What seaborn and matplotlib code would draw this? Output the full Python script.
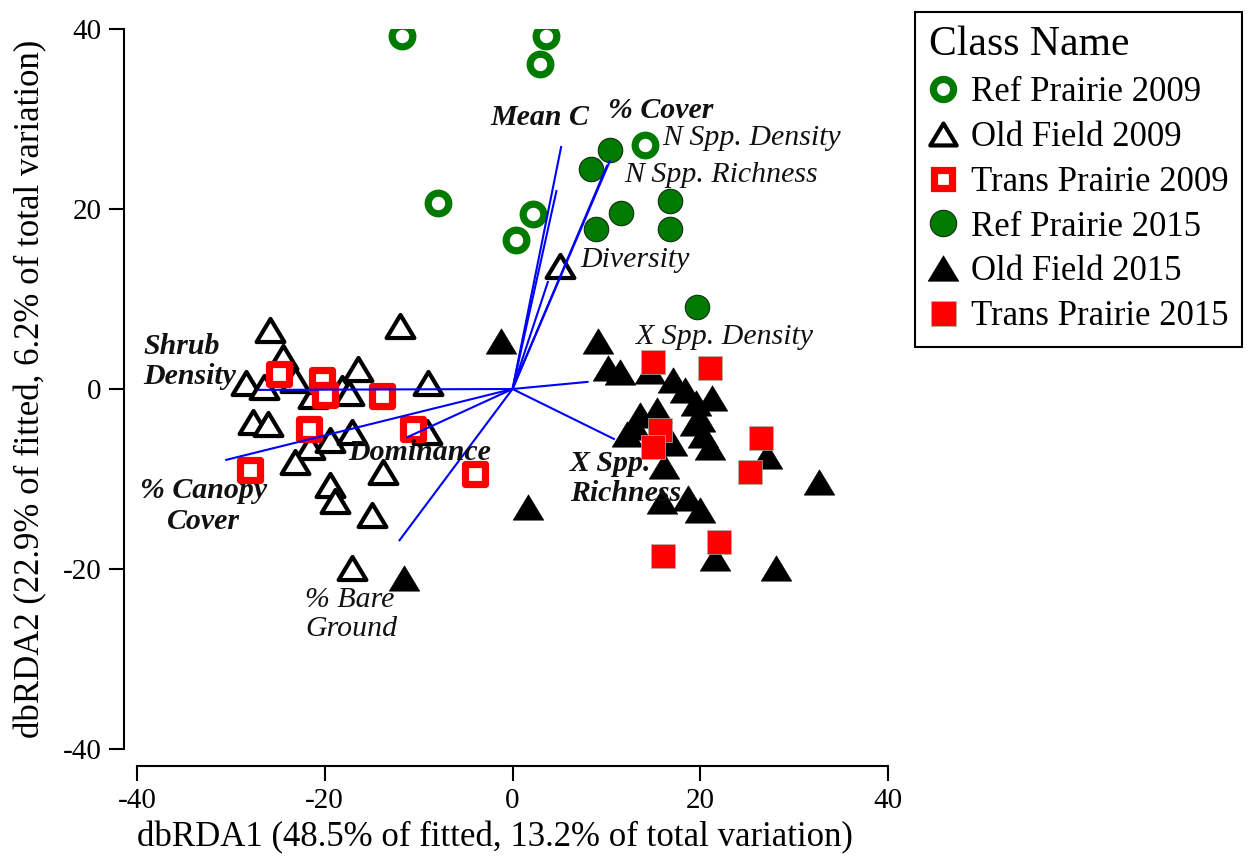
import numpy as np
import pandas as pd
import matplotlib
matplotlib.use("Agg")
import matplotlib.pyplot as plt
from matplotlib.lines import Line2D
from matplotlib.path import Path
import seaborn as sns

# ---- site scores on dbRDA1 / dbRDA2 -------------------------------------
ref_2009_x = [-11.8, 3.6, 2.9, -7.9, 2.2, 0.4, 14.1]
ref_2009_y = [39.2, 39.2, 36.1, 20.7, 19.4, 16.6, 27.1]

old_2009_x = [-25.8, -12.0, -24.5, -28.4, -26.5, -23.2, -21.2, -20.2, -18.2,
              -16.5, -17.4, -9.0, -27.6, -26.0, -21.6, -23.2, -19.4, -17.1,
              -9.1, -13.8, -19.4, -18.9, -15.0, -17.1, 5.1]
old_2009_y = [6.6, 7.0, 3.6, 0.7, 0.2, 1.0, -0.8, 0.9, 0.1,
              2.2, -0.4, 0.7, -3.7, -3.9, -6.4, -8.1, -5.7, -4.8,
              -4.8, -9.2, -10.7, -12.4, -14.0, -19.9, 13.7]

trans_2009_x = [-24.9, -20.3, -20.0, -13.9, -21.7, -28.0, -10.6, -4.0]
trans_2009_y = [1.7, 1.0, -0.7, -0.8, -4.4, -9.0, -4.4, -9.4]

ref_2015_x = [10.4, 8.4, 16.8, 11.6, 8.9, 16.8, 19.7]
ref_2015_y = [26.5, 24.4, 20.9, 19.6, 17.8, 17.8, 9.1]

old_2015_x = [-1.2, 9.1, 10.2, 11.4, 1.7, -11.6, 17.1, 18.4, 21.2, 19.6,
              13.6, 15.4, 13.0, 20.0, 20.3, 21.0, 17.0, 16.1, 32.6, 27.1,
              15.9, 18.7, 20.0, 21.6, 28.1, 19.4, 14.6, 12.2]
old_2015_y = [5.3, 5.3, 2.3, 1.9, -13.1, -21.0, 1.0, -0.1, -1.0, -1.6,
              -2.9, -2.3, -4.2, -3.3, -5.1, -6.4, -6.0, -8.6, -10.3, -7.5,
              -12.5, -12.1, -13.4, -18.8, -19.9, -3.8, 2.0, -5.0]

trans_2015_x = [15.0, 21.0, 15.7, 15.0, 26.5, 25.3, 16.0, 22.0]
trans_2015_y = [3.0, 2.3, -4.6, -6.4, -5.5, -9.2, -18.6, -17.0]

class_names = ["Ref Prairie 2009", "Old Field 2009", "Trans Prairie 2009",
               "Ref Prairie 2015", "Old Field 2015", "Trans Prairie 2015"]

# ---- environmental vectors ---------------------------------------------
vector_names = ["Mean C", "% Cover", "N Spp. Density", "N Spp. Richness",
                "Diversity", "X Spp. Density", "X Spp. Richness", "Dominance",
                "Shrub Density", "% Canopy Cover", "% Bare Ground"]
vector_x = [5.2, 4.7, 10.4, 10.1, 3.8, 8.1, 10.9, -11.3, -27.1, -30.6, -12.1]
vector_y = [27.0, 22.1, 25.4, 24.9, 12.0, 0.8, -5.6, -5.4, -0.1, -7.9, -16.9]

# ---- assemble tidy frame -----------------------------------------------
xs = [ref_2009_x, old_2009_x, trans_2009_x, ref_2015_x, old_2015_x, trans_2015_x]
ys = [ref_2009_y, old_2009_y, trans_2009_y, ref_2015_y, old_2015_y, trans_2015_y]
df = pd.concat(
    [pd.DataFrame({"dbRDA1": x, "dbRDA2": y, "Class": name})
     for x, y, name in zip(xs, ys, class_names)],
    ignore_index=True)

# a slightly squat triangle
tri = Path([(0, 0.83), (-1, -0.83), (1, -0.83), (0, 0.83)],
           [Path.MOVETO, Path.LINETO, Path.LINETO, Path.CLOSEPOLY])

GREEN = "#007A00"
RED = "#FF0000"
styles = {
    "Ref Prairie 2009":   dict(marker="o", s=220, color="white", edgecolor=GREEN, linewidth=5.2),
    "Old Field 2009":     dict(marker=tri, s=400, color="white", edgecolor="black", linewidth=3.0),
    "Trans Prairie 2009": dict(marker="s", s=190, color="white", edgecolor=RED, linewidth=5.2),
    "Ref Prairie 2015":   dict(marker="o", s=310, color=GREEN, edgecolor="#103010", linewidth=0.8),
    "Old Field 2015":     dict(marker=tri, s=480, color="black", edgecolor="black", linewidth=0.5),
    "Trans Prairie 2015": dict(marker="s", s=310, color=RED, edgecolor="#B0B0B0", linewidth=0.5),
}

sns.set_style("ticks")
plt.rcParams["font.family"] = ["Liberation Serif", "DejaVu Serif"]
plt.rcParams["axes.unicode_minus"] = False
plt.rcParams["text.color"] = "black"
plt.rcParams["axes.labelcolor"] = "black"

fig = plt.figure(figsize=(12.48, 8.61), dpi=100)
ax = fig.add_axes([137 / 1248, 1 - 749 / 861, 751 / 1248, 720 / 861])

for name in class_names:
    sns.scatterplot(data=df[df["Class"] == name], x="dbRDA1", y="dbRDA2",
                    ax=ax, legend=False, zorder=2, **styles[name])

# biplot vectors from the origin
for vx, vy in zip(vector_x, vector_y):
    ax.plot([0, vx], [0, vy], color="#0000FF", lw=1.5, zorder=3,
            solid_capstyle="butt")

# vector labels
label_text = ["Mean C", "% Cover", "N Spp. Density", "N Spp. Richness",
              "Diversity", "X Spp. Density", "X Spp.\nRichness", "Dominance",
              "Shrub\nDensity", "% Canopy\nCover", "% Bare\nGround"]
label_xy = [(2.9, 30.2), (15.8, 31.0), (16.0, 27.9), (11.9, 23.8),
            (7.2, 14.3), (13.2, 5.8), (6.1, -9.9), (-17.5, -7.1),
            (-39.3, 3.1), (-32.9, -13.0), (-22.1, -25.1)]
label_bold = [True, True, False, False, False, False, True, True, True, True, False]
label_ha = ["center", "center", "left", "left", "left", "left", "left", "left",
            "left", "center", "left"]
for txt, (tx, ty), bold, ha in zip(label_text, label_xy, label_bold, label_ha):
    ax.text(tx, ty, txt, fontsize=21.5, style="italic",
            weight="bold" if bold else "normal", ha=ha, va="center",
            linespacing=1.15, zorder=5, color="#111111")

ax.set_xlim(-40, 40)
ax.set_ylim(-40, 40)
ax.set_xticks([-40, -20, 0, 20, 40])
ax.set_yticks([-40, -20, 0, 20, 40])
sns.despine(ax=ax, offset=dict(left=9.4, bottom=12.2))
for side in ("left", "bottom"):
    ax.spines[side].set_linewidth(1.5)
    ax.spines[side].set_color("black")
ax.tick_params(axis="both", direction="out", length=11, width=1.5,
               labelsize=21, pad=5, colors="black")

ax.set_xlabel("dbRDA1 (48.5% of fitted, 13.2% of total variation)", fontsize=25)
ax.set_ylabel("dbRDA2 (22.9% of fitted, 6.2% of total variation)", fontsize=25)
ax.xaxis.set_label_coords(0.477, -0.1)
ax.yaxis.set_label_coords(-0.12, 0.5)

# legend
handle_kw = {
    "Ref Prairie 2009":   dict(marker="o", markersize=14.5, markerfacecolor="white", markeredgecolor=GREEN, markeredgewidth=5.2),
    "Old Field 2009":     dict(marker=tri, markersize=19, markerfacecolor="white", markeredgecolor="black", markeredgewidth=3.0),
    "Trans Prairie 2009": dict(marker="s", markersize=13.5, markerfacecolor="white", markeredgecolor=RED, markeredgewidth=5.2),
    "Ref Prairie 2015":   dict(marker="o", markersize=19, markerfacecolor=GREEN, markeredgecolor="#103010", markeredgewidth=0.8),
    "Old Field 2015":     dict(marker=tri, markersize=22, markerfacecolor="black", markeredgecolor="black", markeredgewidth=0.5),
    "Trans Prairie 2015": dict(marker="s", markersize=18, markerfacecolor=RED, markeredgecolor="#B0B0B0", markeredgewidth=0.5),
}
handles = [Line2D([], [], linestyle="none", **handle_kw[n]) for n in class_names]
leg = fig.legend(handles, class_names, title="Class Name",
                 loc="upper left", bbox_to_anchor=(915 / 1248, 1 - 12 / 861),
                 borderaxespad=0, fontsize=25, title_fontsize=30, frameon=True,
                 fancybox=False, edgecolor="black", framealpha=1, borderpad=0.4,
                 labelspacing=0.34, handlelength=0.8, handletextpad=0.4,
                 alignment="left")
leg.get_frame().set_linewidth(1.5)

fig.savefig("out.png", dpi=100, facecolor="white")
